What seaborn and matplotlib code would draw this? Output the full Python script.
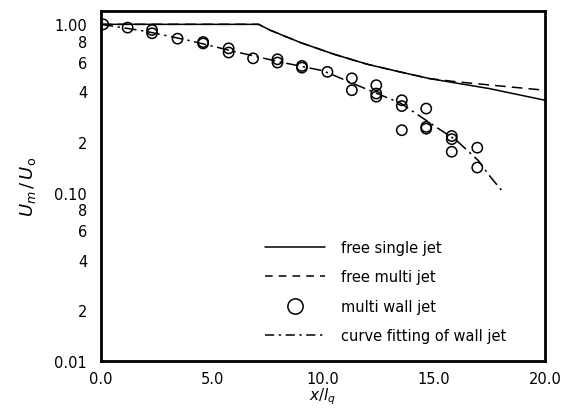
import numpy as np
import pandas as pd
import matplotlib
matplotlib.use("Agg")
import matplotlib.pyplot as plt
import seaborn as sns
from matplotlib.ticker import FixedLocator, FixedFormatter
from matplotlib.lines import Line2D

# ---- data ----
x_single = [0.0, 7.1, 7.6, 9.0, 10.5, 12.0, 13.4, 14.8, 17.5, 20.0]
y_single = [1.0, 1.0, 0.925, 0.778, 0.664, 0.579, 0.524, 0.476, 0.415, 0.354]

x_multi = [0.0, 7.1, 7.6, 9.0, 10.5, 12.0, 13.4, 14.8, 16.0, 18.0, 20.0]
y_multi = [1.0, 1.0, 0.925, 0.778, 0.664, 0.579, 0.524, 0.476, 0.456, 0.43, 0.406]

x_wall = [0.1, 1.2, 2.3, 2.3, 3.45, 4.6, 4.6, 5.75, 5.75, 6.85, 7.95, 7.95,
          9.05, 9.05, 10.2, 11.3, 11.3, 12.4, 12.4, 12.4, 13.55, 13.55, 13.55,
          14.65, 14.65, 14.65, 15.8, 15.8, 15.8, 16.95, 16.95]
y_wall = [1.0, 0.956, 0.925, 0.885, 0.822, 0.785, 0.77, 0.72, 0.68, 0.628, 0.62, 0.593,
          0.566, 0.553, 0.522, 0.478, 0.406, 0.435, 0.388, 0.372, 0.354, 0.327, 0.235,
          0.316, 0.246, 0.240, 0.217, 0.208, 0.175, 0.185, 0.141]

x_fit = [0.0, 2.0, 4.0, 6.0, 8.0, 10.0, 12.0, 13.5, 15.0, 16.0, 17.0, 17.5, 18.05]
y_fit = [1.0, 0.91, 0.80, 0.69, 0.60, 0.53, 0.41, 0.34, 0.25, 0.205, 0.155, 0.126, 0.103]

x_ticks = [0, 5, 10, 15, 20]
x_ticklabels = ["0.0", "5.0", "10.0", "15.0", "20.0"]
y_major = [0.01, 0.1, 1.0]
y_major_labels = ["0.01", "0.10", "1.00"]
y_minor = [0.02, 0.03, 0.04, 0.05, 0.06, 0.07, 0.08, 0.09,
           0.2, 0.3, 0.4, 0.5, 0.6, 0.7, 0.8, 0.9]
y_minor_labels = ["2", "", "4", "", "6", "", "8", "",
                  "2", "", "4", "", "6", "", "8", ""]

df_single = pd.DataFrame({"x": x_single, "y": y_single})
df_multi = pd.DataFrame({"x": x_multi, "y": y_multi})
df_wall = pd.DataFrame({"x": x_wall, "y": y_wall})
df_fit = pd.DataFrame({"x": x_fit, "y": y_fit})

sns.set_style("white")
plt.rcParams["font.family"] = ["DejaVu Sans"]
plt.rcParams["mathtext.fontset"] = "dejavusans"
plt.rcParams["text.color"] = "black"
plt.rcParams["axes.labelcolor"] = "black"
plt.rcParams["xtick.color"] = "black"
plt.rcParams["ytick.color"] = "black"

fig = plt.figure(figsize=(5.62, 4.10), dpi=100)
ax = fig.add_axes([101/562, 1 - 362/410, 444/562, 350/410])

sns.lineplot(data=df_single, x="x", y="y", ax=ax, color="black", lw=1.1,
             estimator=None, sort=False)
sns.lineplot(data=df_multi, x="x", y="y", ax=ax, color="black", lw=1.1,
             estimator=None, sort=False, linestyle=(0, (7, 4)))
sns.lineplot(data=df_fit, x="x", y="y", ax=ax, color="black", lw=1.1,
             estimator=None, sort=False, linestyle=(0, (8, 3, 1.5, 3)))
sns.scatterplot(data=df_wall, x="x", y="y", ax=ax, marker="o", s=55,
                facecolor="none", edgecolor="black", linewidth=1.1, zorder=3)

ax.set_yscale("log")
ax.set_xlim(0, 20)
ax.set_ylim(0.01, 1.2)

ax.xaxis.set_major_locator(FixedLocator(x_ticks))
ax.xaxis.set_major_formatter(FixedFormatter(x_ticklabels))
ax.xaxis.set_minor_locator(FixedLocator(np.arange(0, 21, 1)))
ax.yaxis.set_major_locator(FixedLocator(y_major))
ax.yaxis.set_major_formatter(FixedFormatter(y_major_labels))
ax.yaxis.set_minor_locator(FixedLocator(y_minor))
ax.yaxis.set_minor_formatter(FixedFormatter(y_minor_labels))

ax.tick_params(which="both", direction="in", colors="black", labelcolor="black",
               labelsize=10.5, width=1.2)
ax.tick_params(which="major", length=5)
ax.tick_params(axis="y", which="both", pad=10)
ax.tick_params(axis="y", which="minor", length=3, labelsize=10.5)
ax.tick_params(axis="x", which="both", pad=7)
ax.tick_params(axis="x", which="minor", length=3)

for sp in ax.spines.values():
    sp.set_visible(True)
    sp.set_color("black")
    sp.set_linewidth(2.0)

ax.set_xlabel(r"$x/l_q$", fontsize=11, labelpad=0, color="black")
ax.set_ylabel(r"$U_m\,/\,U_\mathrm{o}$", fontsize=13, labelpad=12, color="black")

handles = [
    Line2D([], [], color="black", lw=1.1),
    Line2D([], [], color="black", lw=1.1, linestyle=(0, (5, 4))),
    Line2D([], [], color="black", lw=0, marker="o", markersize=11,
           markerfacecolor="none", markeredgewidth=1.1),
    Line2D([], [], color="black", lw=1.1, linestyle=(0, (6, 3, 1.5, 3))),
]
labels = ["free single jet", "free multi jet", "multi wall jet", "curve fitting of wall jet"]
leg = ax.legend(handles, labels, loc="lower left", frameon=False, fontsize=10.5,
                handlelength=4.1, handletextpad=1.15, labelspacing=1.0,
                borderpad=0, borderaxespad=0, bbox_to_anchor=(0.369, 0.05))
for t in leg.get_texts():
    t.set_color("black")

fig.savefig("out.png", dpi=100)
